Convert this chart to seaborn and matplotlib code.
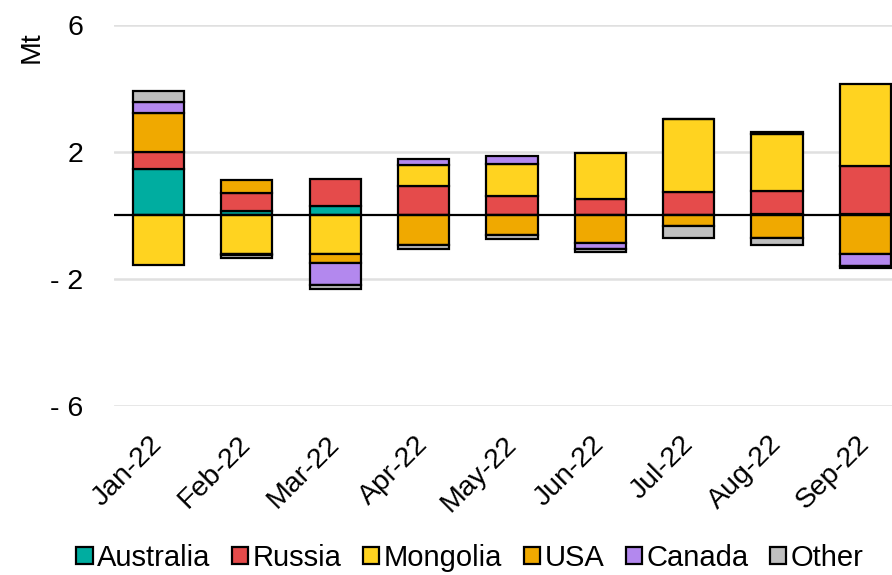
import seaborn as sns
import matplotlib.pyplot as plt
import matplotlib.ticker as mticker
import matplotlib.transforms as mtransforms
import numpy as np

months = ["Jan-22", "Feb-22", "Mar-22", "Apr-22", "May-22", "Jun-22", "Jul-22", "Aug-22", "Sep-22"]
countries = ["Australia", "Russia", "Mongolia", "USA", "Canada", "Other"]
colors = ["#00ADA0", "#E54B4B", "#FFD320", "#F0A900", "#B388EE", "#BFBFBF"]

# monthly change by origin, Mt
australia = [1.46, 0.15, 0.31, 0.00, 0.00, 0.00, 0.00, 0.05, 0.05]
russia = [0.53, 0.55, 0.85, 0.92, 0.62, 0.52, 0.75, 0.73, 1.52]
mongolia = [-1.56, -1.22, -1.20, 0.67, 1.01, 1.44, 2.29, 1.79, 2.56]
usa = [1.23, 0.43, -0.30, -0.92, -0.61, -0.87, -0.33, -0.70, -1.21]
canada = [0.35, -0.04, -0.68, 0.20, 0.24, -0.19, 0.00, 0.07, -0.37]
other = [0.35, -0.08, -0.15, -0.14, -0.14, -0.08, -0.39, -0.23, -0.07]

series = [australia, russia, mongolia, usa, canada, other]

sns.set_theme(style="white")
plt.rcParams['font.family'] = ['Liberation Sans', 'DejaVu Sans']
plt.rcParams['text.color'] = 'black'
plt.rcParams['xtick.color'] = 'black'
plt.rcParams['ytick.color'] = 'black'

fig = plt.figure(figsize=(8.92, 5.75), dpi=100)
ax = fig.add_axes([0.128, 0.294, 0.872, 0.6625])

x = np.arange(len(months))
pos_base = np.zeros(len(months))
neg_base = np.zeros(len(months))
for name, vals, col in zip(countries, series, colors):
    vals = np.array(vals)
    bottoms = np.where(vals >= 0, pos_base, neg_base)
    ax.bar(x, vals, width=0.58, bottom=bottoms, color=col, edgecolor="black",
           linewidth=1.6, label=name, zorder=3)
    pos_base += np.clip(vals, 0, None)
    neg_base += np.clip(vals, None, 0)

ax.axhline(0, color="black", linewidth=1.6, zorder=4)

ax.set_ylim(-6, 6)
ax.set_xlim(-0.5, 8.3)
ax.set_yticks([-6, -2, 2, 6])
ax.yaxis.set_major_formatter(mticker.FixedFormatter(["- 6", "- 2", "2", "6"]))
ax.yaxis.grid(True, color="#E0E0E0", linewidth=1.8, zorder=0)
ax.tick_params(axis="y", length=0, pad=22, labelsize=20.5)
ax.tick_params(axis="x", length=0, pad=18, labelsize=20.5)
ax.set_xticks(x)
ax.set_xticklabels(months, rotation=45, ha="right", rotation_mode="anchor")
shift = mtransforms.ScaledTranslation(-9 / 100, 0, fig.dpi_scale_trans)
for lbl in ax.get_xticklabels():
    lbl.set_transform(lbl.get_transform() + shift)
sns.despine(ax=ax, left=True, bottom=True, top=True, right=True)

fig.text(0.035, 0.918, "Mt", rotation=90, fontsize=20.5, ha="center", va="center")

fig.legend(loc="center", bbox_to_anchor=(0.527, 0.03), ncol=6, frameon=False,
           fontsize=21, handlelength=0.55, handleheight=0.55, handletextpad=0.15,
           columnspacing=0.75, borderaxespad=0)

fig.savefig("out.png", dpi=100)
